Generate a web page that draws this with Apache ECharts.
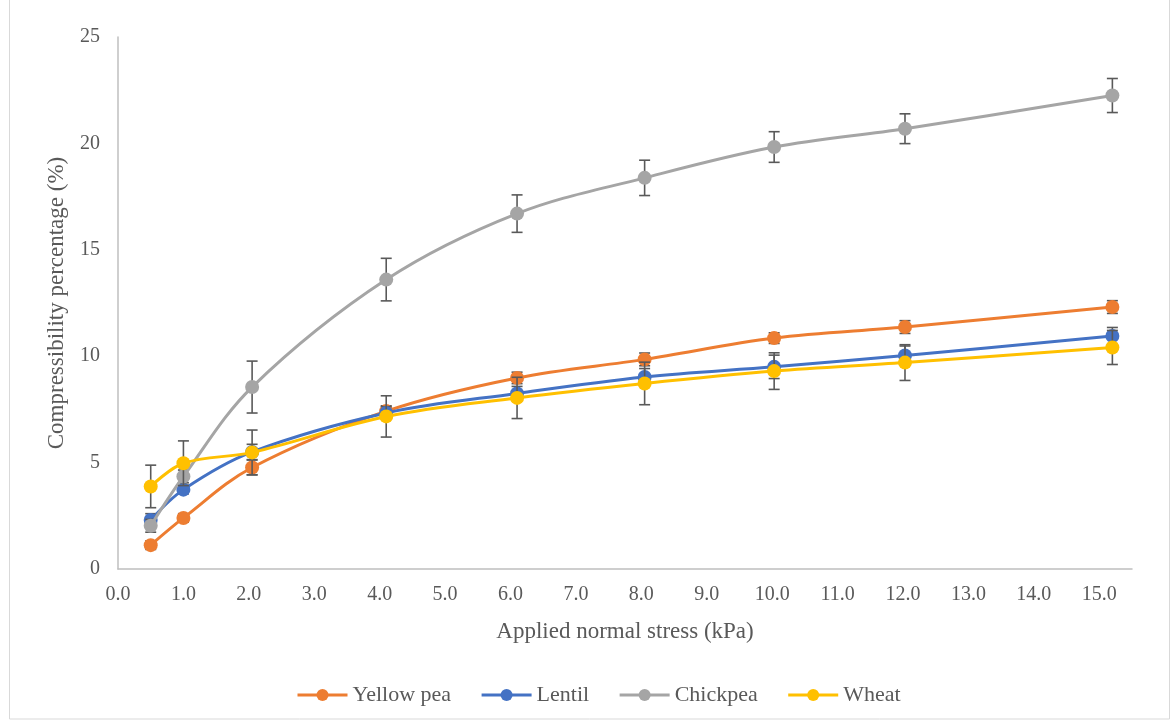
<!DOCTYPE html>
<html>
<head>
<meta charset="utf-8">
<script src="https://cdn.jsdelivr.net/npm/echarts@6/dist/echarts.min.js"></script>
<style>html,body{margin:0;padding:0;background:#fff;}#c{width:1171px;height:724px;}</style>
</head>
<body>
<div id="c"></div>
<script>
const stress = [0.5, 1.0, 2.05, 4.1, 6.1, 8.05, 10.03, 12.03, 15.2];
const seriesNames = ['Yellow pea', 'Lentil', 'Chickpea', 'Wheat'];
const yellowPea = [1.12, 2.4, 4.77, 7.42, 8.98, 9.85, 10.85, 11.37, 12.31];
const yellowPeaErr = [0.2, 0.2, 0.35, 0.25, 0.27, 0.3, 0.25, 0.3, 0.3];
const lentil = [2.3, 3.73, 5.5, 7.33, 8.25, 9.02, 9.5, 10.03, 10.95];
const lentilErr = [0.3, 0.2, 0.36, 0.3, 0.33, 0.4, 0.55, 0.45, 0.4];
const chickpea = [2.03, 4.35, 8.55, 13.6, 16.7, 18.38, 19.83, 20.69, 22.25];
const chickpeaErr = [0.3, 0.3, 1.22, 1.0, 0.88, 0.83, 0.72, 0.7, 0.8];
const wheat = [3.88, 4.97, 5.48, 7.17, 8.04, 8.72, 9.3, 9.7, 10.41];
const wheatErr = [1.0, 1.05, 1.05, 0.97, 0.97, 1.0, 0.86, 0.84, 0.8];
const colors = ['#ED7D31', '#4472C4', '#A5A5A5', '#FFC000'];

const values = [yellowPea, lentil, chickpea, wheat];
const errs = [yellowPeaErr, lentilErr, chickpeaErr, wheatErr];
const font = 'Liberation Serif';

const series = [];
values.forEach((v, i) => {
  series.push({
    type: 'custom',
    name: seriesNames[i] + ' err',
    z: 2 + i * 2,
    silent: true,
    data: stress.map((x, k) => [x, v[k] - errs[i][k], v[k] + errs[i][k]]),
    renderItem: function (params, api) {
      const lo = api.coord([api.value(0), api.value(1)]);
      const hi = api.coord([api.value(0), api.value(2)]);
      const w = 5.5;
      const st = { stroke: '#595959', lineWidth: 1.6 };
      return {
        type: 'group',
        children: [
          { type: 'line', shape: { x1: lo[0], y1: lo[1], x2: hi[0], y2: hi[1] }, style: st },
          { type: 'line', shape: { x1: lo[0] - w, y1: lo[1], x2: lo[0] + w, y2: lo[1] }, style: st },
          { type: 'line', shape: { x1: hi[0] - w, y1: hi[1], x2: hi[0] + w, y2: hi[1] }, style: st }
        ]
      };
    }
  });
  series.push({
    type: 'line',
    name: seriesNames[i],
    z: 3 + i * 2,
    smooth: 0.35,
    symbol: 'circle',
    symbolSize: 14,
    lineStyle: { width: 3, color: colors[i] },
    itemStyle: { color: colors[i] },
    data: stress.map((x, k) => [x, v[k]])
  });
});

const chart = echarts.init(document.getElementById('c'));
chart.setOption({
  animation: false,
  backgroundColor: '#fff',
  graphic: [{
    type: 'rect', shape: { x: 9.5, y: -2, width: 1160, height: 721 },
    style: { fill: 'none', stroke: '#d9d9d9', lineWidth: 1 }
  }],
  grid: { left: 118, right: 39, top: 37, bottom: 155 },
  legend: {
    data: seriesNames,
    top: 679,
    left: 291,
    itemWidth: 50,
    itemHeight: 15,
    itemGap: 29,
    lineStyle: { width: 3 },
    textStyle: { fontFamily: font, fontSize: 22, color: '#595959' }
  },
  xAxis: {
    type: 'value',
    min: 0, max: 15.5, interval: 1,
    name: 'Applied normal stress (kPa)',
    nameLocation: 'middle',
    nameGap: 51,
    nameTextStyle: { fontFamily: font, fontSize: 23, color: '#595959' },
    axisLine: { show: true, lineStyle: { color: '#bfbfbf', width: 1.5 } },
    axisTick: { show: false },
    splitLine: { show: false },
    axisLabel: {
      margin: 16, fontFamily: font, fontSize: 20, color: '#595959',
      showMaxLabel: false,
      formatter: v => (Math.abs(v - Math.round(v)) < 1e-9 ? v.toFixed(1) : '')
    }
  },
  yAxis: {
    type: 'value',
    min: 0, max: 25, interval: 5,
    name: 'Compressibility percentage (%)',
    nameLocation: 'middle',
    nameGap: 50,
    nameTextStyle: { fontFamily: font, fontSize: 23, color: '#595959' },
    axisLine: { show: true, lineStyle: { color: '#bfbfbf', width: 1.5 } },
    axisTick: { show: false },
    splitLine: { show: false },
    axisLabel: { margin: 18, fontFamily: font, fontSize: 20, color: '#595959' }
  },
  series: series
});
</script>
</body>
</html>
